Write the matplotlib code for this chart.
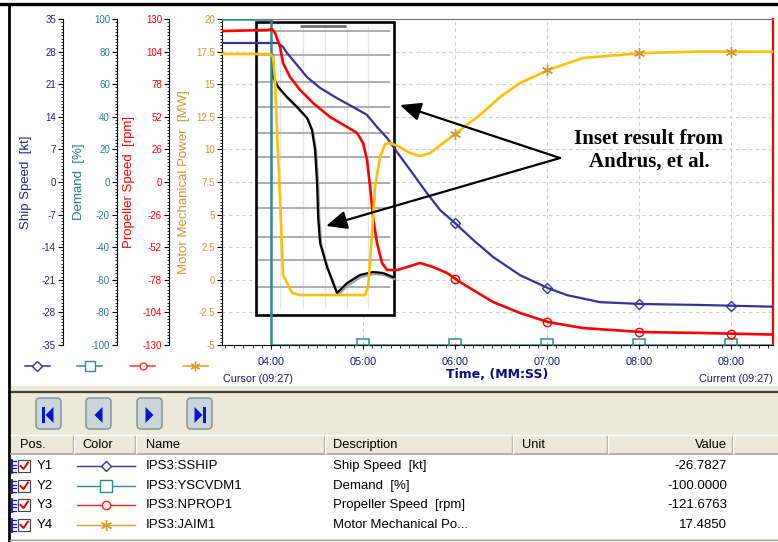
import numpy as np
import matplotlib.pyplot as plt
from matplotlib.patches import Rectangle, FancyBboxPatch, Polygon
from matplotlib.ticker import MultipleLocator, AutoMinorLocator, FuncFormatter

plt.rcParams['font.family'] = ['Liberation Sans', 'DejaVu Sans']

# ---- trend data (time in seconds) ----
t_ship = [208, 244.6, 247.8, 250.4, 257.0, 263.5, 272.0, 283.0, 293.5, 302.6, 309.1, 315.7,
          322.2, 330.7, 341.7, 350.2, 361.3, 371.7, 384.8, 402.4, 420.7, 433.1, 454.6,
          482.0, 519.8, 567.4]
ship = [29.85, 29.85, 29.0, 27.7, 25.1, 22.5, 20.2, 18.0, 16.1, 14.4, 11.8, 9.45,
        6.4, 2.6, -2.4, -6.0, -9.2, -12.4, -16.1, -20.0, -22.8, -24.3, -25.8,
        -26.2, -26.4, -26.78]

t_dem = [208, 240, 240, 567.4]
demand = [100, 100, -100, -100]

t_prop = [208, 237.4, 240.7, 242.6, 245.9, 247.8, 252.4, 258.9, 267.4, 278.5, 289.6, 296.1,
          300.0, 302.6, 304.6, 306.5, 309.1, 312.4, 315.7, 322.2, 328.7, 337.2, 345.7,
          354.8, 361.3, 371.7, 384.8, 402.4, 420.7, 443.5, 482.0, 519.8, 567.4]
prop = [120.4, 121.2, 122.0, 118.8, 107.7, 94.9, 83.7, 73.4, 63.0, 51.8, 43.9, 39.1,
        31.1, 17.6, -4.0, -27.9, -48.6, -64.6, -70.2, -70.2, -67.8, -64.6, -67.8,
        -72.6, -78.2, -86.1, -95.7, -104.5, -111.7, -116.5, -119.7, -120.4, -121.68]

t_power = [208, 239.3, 241.3, 242.6, 243.9, 245.9, 247.8, 253.7, 258.9, 272.0, 301.3, 303.3,
           305.9, 307.8, 311.1, 314.4, 317.6, 324.1, 330.7, 337.2, 343.7, 354.8, 363.3,
           376.3, 389.4, 402.4, 420.7, 443.5, 482.0, 519.8, 567.4]
power = [17.32, 17.32, 17.09, 15.32, 11.26, 6.12, 0.37, -1.01, -1.17, -1.17, -1.17, -0.55,
         3.59, 7.12, 9.42, 10.41, 10.49, 10.18, 9.72, 9.49, 9.72, 10.72, 11.49,
         12.64, 14.02, 15.09, 16.09, 17.01, 17.39, 17.50, 17.49]

# inset result (Andrus et al.), expressed in chart time / power units
t_inset = [240.7, 241.3, 244.6, 250.4, 257.0, 263.5, 266.7, 268.7, 270.0, 270.7, 272.0,
           276.5, 283.0, 289.6, 298.0, 306.5, 313.0, 319.6]
inset_trace = [17.24, 15.55, 14.79, 14.02, 13.25, 12.41, 11.49, 9.95, 7.42, 4.82, 2.82,
               0.98, -1.01, -0.25, 0.37, 0.60, 0.52, 0.21]
inset_box = (230.2, 320.2, -2.7, 19.77)
inset_hlines = [19.08, 17.24, 15.17, 13.25, 11.26, 9.42, 7.42, 5.51, 3.28, 1.52, -0.55]
inset_vlines = [245.9, 260.9, 275.2, 289.6, 303.3]

mark_t = [360, 420, 480, 540]
mark_t_dem = [300, 360, 420, 480, 540]

# ---- table data ----
pos_names = ['Y1', 'Y2', 'Y3', 'Y4']
tag_names = ['IPS3:SSHIP', 'IPS3:YSCVDM1', 'IPS3:NPROP1', 'IPS3:JAIM1']
descs = ['Ship Speed  [kt]', 'Demand  [%]', 'Propeller Speed  [rpm]', 'Motor Mechanical Po...']
values = ['-26.7827', '-100.0000', '-121.6763', '17.4850']
headers = ['Pos.', 'Color', 'Name', 'Description', 'Unit', 'Value']

C_SHIP, C_DEM, C_PROP, C_POW = '#333399', '#2E8B8B', '#FF0000', '#FFC000'
C_POW_DK = '#CC9933'
NAVY = '#1A1A8C'

W, H = 778, 542
L, R, T, B = 222, 773, 19, 345
fig = plt.figure(figsize=(W / 100, H / 100), dpi=100)

# background / frame / table panel in pixel coordinates
ui = fig.add_axes([0, 0, 1, 1], zorder=-1)
ui.set_xlim(0, W)
ui.set_ylim(H, 0)
ui.axis('off')

ax = fig.add_axes([L / W, 1 - B / H, (R - L) / W, (B - T) / H])
ax.set_xlim(208, 567.4)
ax.set_ylim(-5, 20)
ax.set_axisbelow(True)
ax.xaxis.set_major_locator(MultipleLocator(60))
ax.xaxis.set_minor_locator(MultipleLocator(6))
ax.xaxis.set_major_formatter(FuncFormatter(lambda v, p: '%02d:%02d' % (int(v) // 60, int(v) % 60)))
ax.yaxis.set_major_locator(MultipleLocator(2.5))
ax.yaxis.set_minor_locator(AutoMinorLocator(10))
ax.yaxis.set_major_formatter(FuncFormatter(lambda v, p: '%g' % v))
ax.grid(True, which='major', color='#CFCFCF', ls=(0, (3, 3)), lw=0.8)
ax.tick_params(axis='y', which='major', length=3.5, width=0.8, labelsize=7, pad=1.5, labelcolor=C_POW_DK)
ax.tick_params(axis='y', which='minor', length=1.8, width=0.6)
ax.tick_params(axis='x', which='major', length=3, width=0.8, labelsize=7.8, pad=5.5, labelcolor=NAVY)
ax.tick_params(axis='x', which='minor', length=1.8, width=0.6)
ax.spines['top'].set_color('#707070')
ax.spines['right'].set_color('red')
ax.spines['right'].set_linewidth(1.6)
ax.set_ylabel('Motor Mechanical Power  [MW]', color=C_POW_DK, fontsize=9.5)
ax.yaxis.set_label_coords((190 - L) / (R - L), 0.5)
ax.set_xlabel('Time, (MM:SS)', fontsize=9, fontweight='bold', color='#0A0A80', family='DejaVu Sans')
ax.xaxis.set_label_coords(0.5, (B - 368) / (B - T))

# inset picture
x0, x1, y0, y1 = inset_box
ax.add_patch(Rectangle((x0, y0), x1 - x0, y1 - y0, fc='white', ec='black', lw=1.9, zorder=1.5))
ax.hlines(inset_hlines, 231.5, 317.6, colors='#A8A8A8', lw=1.3, zorder=1.6)
ax.vlines(inset_vlines, -2.2, 19.5, colors='#E4E4E4', lw=0.9, zorder=1.55)
ax.hlines([19.46], 258.9, 288.9, colors='#707070', lw=2, zorder=1.6)
ax.plot(np.array(t_inset) + 0.8, np.array(inset_trace) - 0.15, color='#A0A0A0', lw=1.6, zorder=1.7)
ax.plot(t_inset, inset_trace, color='black', lw=1.6, zorder=1.8)


def side_axis(spine_px, lo, hi, step, color, label, label_px):
    a = ax.twinx()
    a.set_ylim(lo, hi)
    for s in ('top', 'right', 'bottom'):
        a.spines[s].set_visible(False)
    a.spines['left'].set_visible(True)
    a.spines['left'].set_position(('axes', (spine_px - L) / (R - L)))
    a.yaxis.set_ticks_position('left')
    a.yaxis.set_label_position('left')
    a.yaxis.set_major_locator(MultipleLocator(step))
    a.yaxis.set_minor_locator(AutoMinorLocator(10))
    a.yaxis.set_major_formatter(FuncFormatter(lambda v, p: '%g' % v))
    a.tick_params(axis='y', which='major', length=3.5, width=0.8, labelsize=7, pad=1.5, labelcolor=color)
    a.tick_params(axis='y', which='minor', length=1.8, width=0.6)
    a.set_ylabel(label, color=color, fontsize=9.5)
    a.yaxis.set_label_coords((label_px - L) / (R - L), 0.5)
    return a


ax_ship = side_axis(63, -35, 35, 7, '#262680', 'Ship Speed  [kt]', 32)
ax_dem = side_axis(117, -100, 100, 20, '#2E7D7D', 'Demand  [%]', 85)
ax_prop = side_axis(169, -130, 130, 26, '#FF0000', 'Propeller Speed  [rpm]', 135)
ax_pow = ax.twinx()
ax_pow.set_ylim(-5, 20)
ax_pow.axis('off')

ax_ship.plot(t_ship, ship, color=C_SHIP, lw=1.6)
ax_ship.plot(mark_t, np.interp(mark_t, t_ship, ship), ls='none', marker='D', ms=5, mfc='none', mec=C_SHIP, mew=1)
ax_dem.plot(t_dem, demand, color=C_DEM, lw=1.8)
ax_dem.plot(mark_t_dem, np.interp(mark_t_dem, t_dem, demand), ls='none', marker='s', ms=8, mfc='none', mec=C_DEM, mew=1.1)
ax_prop.plot(t_prop, prop, color=C_PROP, lw=1.9)
ax_prop.plot(mark_t, np.interp(mark_t, t_prop, prop), ls='none', marker='o', ms=6, mfc='none', mec=C_PROP, mew=1)
ax_pow.plot(t_power, power, color=C_POW, lw=1.9)
ax_pow.plot(mark_t, np.interp(mark_t, t_power, power), ls='none', marker=(6, 2, 0), ms=8, mec=C_POW_DK, mew=1)

# annotation
arrow_from = (428.5, 9.34)
for tip in [(324.1, 13.4), (275.9, 4.13)]:
    ax_pow.annotate('', xy=tip, xytext=arrow_from,
                    arrowprops=dict(arrowstyle='-|>,head_length=0.9,head_width=0.4', color='black',
                                    lw=1.6, shrinkA=0, shrinkB=0, mutation_scale=14))
ax_pow.text(486.5, 9.95, 'Inset result from\nAndrus, et al.', ha='center', va='center',
            family='Liberation Serif', fontweight='bold', fontsize=15, linespacing=1.2)

# ---- frame and lower panel (pixel coords) ----
ui.add_patch(Rectangle((10, 386), W - 10, 6, fc='#ECE9D8', ec='none'))
ui.add_patch(Rectangle((10, 393), W - 10, 147, fc='#ECE9D8', ec='none'))
ui.plot([10, W], [392, 392], color='#404040', lw=1.6)
ui.plot([0, W], [4, 4], color='black', lw=2.4)
ui.plot([9, 9], [4, 540], color='black', lw=2)
ui.text(223, 379, 'Cursor (09:27)', fontsize=7.8, color=NAVY, ha='left', va='center')
ui.text(773, 379, 'Current (09:27)', fontsize=7.8, color=NAVY, ha='right', va='center')

# legend samples under the axes
legend_x = [37.5, 90, 143, 195.5]
legend_c = [C_SHIP, C_DEM, '#FF3030', '#D9A030']
legend_m = [('D', 5), ('s', 7), ('o', 5), ((6, 2, 0), 7)]
for lx, lc, (mk, ms) in zip(legend_x, legend_c, legend_m):
    ui.plot([lx - 12.5, lx + 12.5], [366, 366], lw=1.1, color=lc)
    ui.plot([lx], [366], ls='none', marker=mk, ms=ms, mfc='white', mec=lc, mew=1)

# navigation buttons
navblue = '#0A14C8'
for i, cx in enumerate([48.5, 98.5, 149.5, 199.5]):
    ui.add_patch(FancyBboxPatch((cx - 12.5, 398), 25, 31, boxstyle='round,pad=0,rounding_size=4',
                                fc='#CAD6D9', ec='#7D8C96', lw=1))
    cy = 415
    if i == 0:
        ui.add_patch(Rectangle((cx - 6.5, cy - 8), 3, 16, fc=navblue, ec='none'))
        ui.add_patch(Polygon([(cx - 3, cy), (cx + 5, cy - 8), (cx + 5, cy + 8)], fc=navblue, ec='none'))
    elif i == 1:
        ui.add_patch(Polygon([(cx - 4, cy), (cx + 4, cy - 8), (cx + 4, cy + 8)], fc=navblue, ec='none'))
    elif i == 2:
        ui.add_patch(Polygon([(cx + 4, cy), (cx - 4, cy - 8), (cx - 4, cy + 8)], fc=navblue, ec='none'))
    else:
        ui.add_patch(Polygon([(cx + 3, cy), (cx - 5, cy - 8), (cx - 5, cy + 8)], fc=navblue, ec='none'))
        ui.add_patch(Rectangle((cx + 3.5, cy - 8), 3, 16, fc=navblue, ec='none'))

# table header
col_edges = [11, 73, 135, 324, 512, 607, 732, W]
ui.plot([11, W], [435, 435], color='white', lw=1)
ui.plot([11, W], [454, 454], color='#ACA899', lw=1.2)
for xe in col_edges[1:-1]:
    ui.plot([xe, xe], [436, 453], color='#ACA899', lw=1)
    ui.plot([xe + 1.5, xe + 1.5], [436, 453], color='white', lw=1)
head_x = [20, 82, 146, 333, 522, 727]
for i, (hx, txt) in enumerate(zip(head_x, headers)):
    ui.text(hx, 445, txt, fontsize=9.3, ha='right' if i == 5 else 'left', va='center', color='black')

# table rows
ui.add_patch(Rectangle((10.5, 455), W - 10.5, 84, fc='white', ec='none'))
ui.plot([10, W], [539.5, 539.5], color='#A0A0A0', lw=1)
row_y = [466, 486, 505, 525]
row_c = [C_SHIP, C_DEM, '#FF2020', '#D9A030']
row_m = [('D', 5.5), ('s', 8), ('o', 6), ((6, 2, 0), 8)]
for ry, p, nm, ds, val, rc, (mk, ms) in zip(row_y, pos_names, tag_names, descs, values, row_c, row_m):
    # checkbox icon
    ui.plot([12, 12], [ry - 6.5, ry + 6.5], color='#1010E0', lw=1.3)
    for dy in (-5, -1.5, 2, 5.5):
        ui.plot([12, 16], [ry + dy, ry + dy], color='#1010E0', lw=0.9)
    ui.add_patch(Rectangle((18, ry - 6), 12, 12, fc='white', ec='#404040', lw=0.8))
    ui.plot([20.5, 23.5, 28], [ry, ry + 3, ry - 3.5], color='#E00000', lw=1.4)
    ui.text(37, ry, p, fontsize=9.5, va='center', ha='left')
    ui.plot([77, 135], [ry, ry], color=rc, lw=1)
    ui.plot([106.5], [ry], ls='none', marker=mk, ms=ms, mfc='white', mec=rc, mew=1)
    ui.text(146, ry, nm, fontsize=9.5, va='center', ha='left')
    ui.text(333, ry, ds, fontsize=9.5, va='center', ha='left')
    ui.text(727, ry, val, fontsize=9.5, va='center', ha='right')

fig.savefig('out.png', dpi=100)
